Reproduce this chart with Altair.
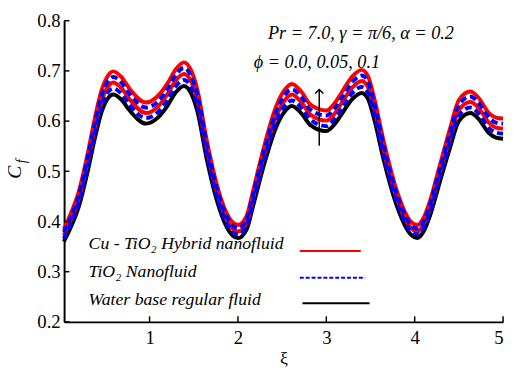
import altair as alt
import pandas as pd

# ---- data ----
xi = [0.03, 0.10, 0.20, 0.30, 0.38, 0.46, 0.52, 0.59, 0.68, 0.78, 0.96, 1.10, 1.20, 1.30, 1.39,
      1.47, 1.54, 1.65, 1.76, 1.87, 2.00, 2.10, 2.17, 2.30, 2.43, 2.52, 2.61, 2.72, 2.82, 3.00,
      3.10, 3.17, 3.30, 3.40, 3.47, 3.54, 3.65, 3.80, 3.95, 4.03, 4.10, 4.17, 4.28, 4.40, 4.50,
      4.63, 4.72, 4.84, 4.92, 5.00]

water = [0.360, 0.385, 0.430, 0.500, 0.565, 0.620, 0.643, 0.653, 0.643, 0.620, 0.595, 0.608, 0.630, 0.658, 0.670,
         0.655, 0.620, 0.522, 0.443, 0.390, 0.367, 0.385, 0.430, 0.516, 0.587, 0.617, 0.630, 0.615, 0.592, 0.580,
         0.595, 0.613, 0.645, 0.656, 0.645, 0.605, 0.522, 0.430, 0.375, 0.367, 0.380, 0.410, 0.476, 0.547, 0.600,
         0.616, 0.605, 0.576, 0.567, 0.565]

tio2_005 = [0.366, 0.392, 0.438, 0.509, 0.575, 0.631, 0.655, 0.665, 0.655, 0.631, 0.606, 0.619, 0.641, 0.670, 0.682,
            0.667, 0.631, 0.531, 0.451, 0.397, 0.374, 0.392, 0.438, 0.525, 0.598, 0.628, 0.641, 0.626, 0.603, 0.590,
            0.606, 0.624, 0.657, 0.668, 0.657, 0.616, 0.531, 0.438, 0.382, 0.374, 0.387, 0.417, 0.485, 0.557, 0.611,
            0.627, 0.616, 0.586, 0.577, 0.575]

hyb_005 = [0.373, 0.399, 0.445, 0.518, 0.585, 0.642, 0.666, 0.677, 0.666, 0.642, 0.616, 0.630, 0.653, 0.682, 0.694,
           0.679, 0.642, 0.541, 0.459, 0.404, 0.380, 0.399, 0.445, 0.535, 0.608, 0.639, 0.653, 0.637, 0.613, 0.601,
           0.616, 0.635, 0.668, 0.680, 0.668, 0.627, 0.541, 0.445, 0.389, 0.380, 0.394, 0.425, 0.493, 0.567, 0.622,
           0.638, 0.627, 0.597, 0.587, 0.585]

tio2_01 = [0.379, 0.405, 0.453, 0.527, 0.595, 0.653, 0.677, 0.688, 0.677, 0.653, 0.627, 0.640, 0.663, 0.693, 0.706,
           0.690, 0.653, 0.550, 0.466, 0.411, 0.386, 0.405, 0.453, 0.543, 0.618, 0.650, 0.663, 0.648, 0.623, 0.611,
           0.627, 0.645, 0.679, 0.691, 0.679, 0.637, 0.550, 0.453, 0.395, 0.386, 0.400, 0.432, 0.501, 0.576, 0.632,
           0.649, 0.637, 0.607, 0.597, 0.595]

hyb_01 = [0.385, 0.412, 0.460, 0.535, 0.605, 0.663, 0.688, 0.699, 0.688, 0.663, 0.637, 0.651, 0.674, 0.704, 0.717,
          0.701, 0.663, 0.559, 0.474, 0.417, 0.393, 0.412, 0.460, 0.552, 0.628, 0.660, 0.674, 0.658, 0.633, 0.621,
          0.637, 0.656, 0.690, 0.702, 0.690, 0.647, 0.559, 0.460, 0.401, 0.393, 0.407, 0.439, 0.509, 0.585, 0.642,
          0.659, 0.647, 0.616, 0.607, 0.605]

x_ticks = [1, 2, 3, 4, 5]
y_ticks = [0.2, 0.3, 0.4, 0.5, 0.6, 0.7, 0.8]

legend_labels = ["Cu - TiO₂ Hybrid nanofluid", "TiO₂ Nanofluid", "Water base regular fluid"]
legend_kind = ["hybrid", "tio2", "water"]

FONT = "Liberation Serif"
XMIN, XMAX = 0.033, 5.0

# ---- tables ----
rows = []
for name, kind, vals in [("water", "water", water), ("hyb_005", "hybrid", hyb_005), ("hyb_01", "hybrid", hyb_01),
                         ("tio2_005", "tio2", tio2_005), ("tio2_01", "tio2", tio2_01)]:
    for x, y in zip(xi, vals):
        rows.append({"series": name, "kind": kind, "xi": x, "cf": y})
df = pd.DataFrame(rows)

xs = alt.Scale(domain=[XMIN, XMAX], nice=False, zero=False)
ys = alt.Scale(domain=[0.2, 0.8], nice=False, zero=False)

xax = alt.Axis(values=x_ticks, format="d", tickSize=0, labelPadding=7, labelFontSize=19, labelFont=FONT,
               labelColor="black", domainColor="black", domainWidth=2, grid=False,
               title="ξ", titleFont=FONT, titleFontSize=18, titleFontWeight="normal", titleColor="black",
               titlePadding=2)
yax = alt.Axis(values=y_ticks, format=".1f", tickSize=0, labelPadding=4, labelFontSize=19, labelFont=FONT,
               labelColor="black", domainColor="black", domainWidth=2, grid=False, title=None)

color_scale = alt.Scale(domain=["hybrid", "tio2", "water"], range=["#ff0000", "#0000ff", "#000000"])

solid = alt.Chart(df).transform_filter(alt.datum.kind != "tio2").mark_line(
    strokeWidth=4, interpolate="monotone"
).encode(
    x=alt.X("xi:Q", scale=xs, axis=xax),
    y=alt.Y("cf:Q", scale=ys, axis=yax),
    color=alt.Color("kind:N", scale=color_scale, legend=None),
    detail="series:N",
)

dashed = alt.Chart(df).transform_filter(alt.datum.kind == "tio2").mark_line(
    strokeWidth=4, interpolate="monotone", strokeDash=[7, 4]
).encode(
    x=alt.X("xi:Q", scale=xs),
    y=alt.Y("cf:Q", scale=ys),
    color=alt.Color("kind:N", scale=color_scale, legend=None),
    detail="series:N",
)

# inward ticks
xt = pd.DataFrame({"x": x_ticks, "y": [0.2] * len(x_ticks), "y2": [0.211] * len(x_ticks)})
yt = pd.DataFrame({"y": y_ticks, "x": [XMIN] * len(y_ticks), "x2": [XMIN + 0.06] * len(y_ticks)})
xtick = alt.Chart(xt).mark_rule(color="black", strokeWidth=1.5).encode(
    x=alt.X("x:Q", scale=xs), y=alt.Y("y:Q", scale=ys), y2="y2:Q")
ytick = alt.Chart(yt).mark_rule(color="black", strokeWidth=1.5).encode(
    y=alt.Y("y:Q", scale=ys), x=alt.X("x:Q", scale=xs), x2="x2:Q")

# annotations
ann = pd.DataFrame({
    "x": [2.34, 2.18],
    "y": [0.776, 0.718],
    "t": ["Pr = 7.0,  γ = π/6, α = 0.2", "ϕ = 0.0, 0.05, 0.1"],
})
ann_text = alt.Chart(ann).mark_text(font=FONT, fontStyle="italic", fontSize=18.5, align="left",
                                    baseline="middle", color="black").encode(
    x=alt.X("x:Q", scale=xs), y=alt.Y("y:Q", scale=ys), text="t:N")

arrow = pd.DataFrame({"x": [2.92], "y": [0.551], "y2": [0.663]})
arrow_line = alt.Chart(arrow).mark_rule(color="black", strokeWidth=1.5).encode(
    x=alt.X("x:Q", scale=xs), y=alt.Y("y:Q", scale=ys), y2="y2:Q")
arrow_head = alt.Chart(arrow).mark_point(shape="M-1,1L0,0L1,1", size=70, filled=False,
                                         color="black", strokeWidth=1.5, opacity=1).encode(
    x=alt.X("x:Q", scale=xs), y=alt.Y("y2:Q", scale=ys))

# legend
leg = pd.DataFrame({
    "t": legend_labels,
    "kind": legend_kind,
    "tx": [0.31, 0.31, 0.31],
    "ty": [0.355, 0.300, 0.243],
    "lx": [2.70, 2.70, 2.73],
    "lx2": [3.39, 3.44, 3.49],
    "ly": [0.341, 0.288, 0.237],
})
leg_text = alt.Chart(leg).mark_text(font=FONT, fontStyle="italic", fontSize=18, align="left",
                                    baseline="middle", color="black").encode(
    x=alt.X("tx:Q", scale=xs), y=alt.Y("ty:Q", scale=ys), text="t:N")
leg_solid = alt.Chart(leg).transform_filter(alt.datum.kind != "tio2").mark_rule(strokeWidth=2).encode(
    x=alt.X("lx:Q", scale=xs), x2="lx2:Q", y=alt.Y("ly:Q", scale=ys),
    color=alt.Color("kind:N", scale=color_scale, legend=None))
leg_dash = alt.Chart(leg).transform_filter(alt.datum.kind == "tio2").mark_rule(strokeWidth=2,
                                                                                 strokeDash=[4, 2]).encode(
    x=alt.X("lx:Q", scale=xs), x2="lx2:Q", y=alt.Y("ly:Q", scale=ys),
    color=alt.Color("kind:N", scale=color_scale, legend=None))

# y axis title C_f
cf_c = alt.Chart(pd.DataFrame({"t": ["C"]})).mark_text(font=FONT, fontStyle="italic", fontSize=20,
                                                        angle=270, align="center", baseline="middle",
                                                        color="black").encode(
    x=alt.value(-50), y=alt.value(154), text="t:N")
cf_f = alt.Chart(pd.DataFrame({"t": ["f"]})).mark_text(font=FONT, fontStyle="italic", fontSize=14,
                                                        angle=270, align="center", baseline="middle",
                                                        color="black").encode(
    x=alt.value(-43), y=alt.value(143), text="t:N")

chart = alt.layer(
    solid, dashed, xtick, ytick, ann_text, arrow_line, arrow_head,
    leg_text, leg_solid, leg_dash, cf_c, cf_f
).properties(
    width=446, height=306,
    autosize=alt.AutoSizeParams(type="none"),
    padding={"left": 57, "top": 10, "right": 4, "bottom": 47},
    background="white",
).configure_view(stroke=None).configure_axis(
    labelFont=FONT, titleFont=FONT, labelColor="black", titleColor="black"
)

chart.save("out.html", embed_options={"renderer": "svg", "actions": False})
